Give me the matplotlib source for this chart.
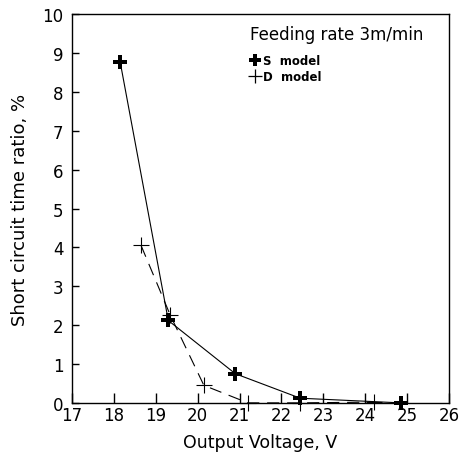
import numpy as np
import matplotlib
matplotlib.use("Agg")
import matplotlib.pyplot as plt
from matplotlib.lines import Line2D

plt.rcParams['font.family'] = ['DejaVu Sans']

# data
s_voltage = [18.15, 19.3, 20.9, 22.45, 24.85]
s_ratio = [8.78, 2.12, 0.75, 0.12, 0.0]

d_voltage = [18.65, 19.35, 20.15, 21.2, 22.45, 24.2]
d_ratio = [4.05, 2.25, 0.45, 0.0, 0.0, 0.02]

x_ticks = [17, 18, 19, 20, 21, 22, 23, 24, 25, 26]
y_ticks = [0, 1, 2, 3, 4, 5, 6, 7, 8, 9, 10]

fig = plt.figure(figsize=(4.61, 4.60), dpi=100)
ax = fig.add_axes([0.156, 0.122, 0.818, 0.845])

ax.plot(s_voltage, s_ratio, color='black', lw=0.8, zorder=2)
ax.plot(d_voltage, d_ratio, color='black', lw=0.8, dashes=(11, 7), zorder=2)
ax.plot(s_voltage, s_ratio, ls='none', marker='P', ms=10, color='black',
        markeredgewidth=0, zorder=3, clip_on=False)
ax.plot(d_voltage, d_ratio, ls='none', marker='+', ms=11, color='black',
        markeredgewidth=0.8, zorder=3, clip_on=False)

ax.set_xlim(17, 26)
ax.set_ylim(0, 10)
ax.set_xticks(x_ticks)
ax.set_yticks(y_ticks)
ax.tick_params(axis='x', direction='in', length=7, width=1, labelsize=12, pad=2)
ax.tick_params(axis='y', direction='in', length=5, width=1, labelsize=12, pad=6)
for sp in ax.spines.values():
    sp.set_linewidth(1)

ax.set_xlabel('Output Voltage, V', fontsize=12.5, labelpad=7)
ax.set_ylabel('Short circuit time ratio, %', fontsize=13, labelpad=10)

handles = [
    Line2D([], [], ls='none', marker='P', ms=9, color='black', markeredgewidth=0),
    Line2D([], [], ls='none', marker='+', ms=10, color='black', markeredgewidth=0.9),
]
leg = ax.legend(handles, ['S  model', 'D  model'], title='Feeding rate 3m/min',
                loc='upper left', bbox_to_anchor=(0.46, 0.985), frameon=False,
                fontsize=8.5, title_fontsize=12, handlelength=0.8,
                handletextpad=0.3, labelspacing=0.25, borderaxespad=0)
leg._legend_box.align = 'left'
leg._legend_box.sep = 8
for t in leg.get_texts():
    t.set_fontweight('bold')

fig.savefig('out.png', dpi=100)
